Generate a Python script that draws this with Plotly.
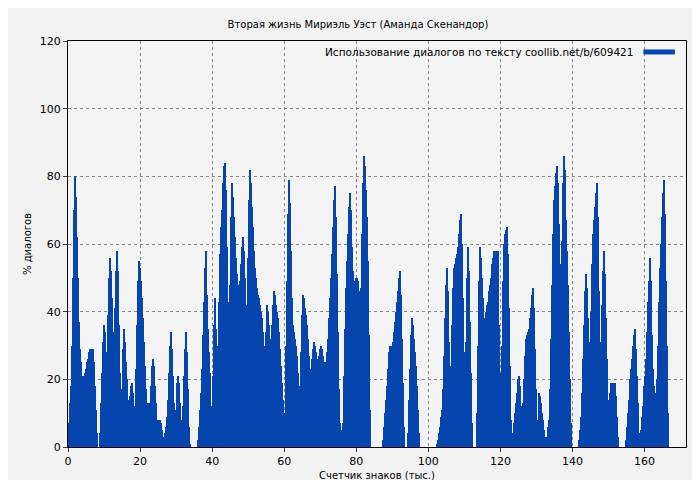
import plotly.graph_objects as go

seg1 = [7,13,18,30,50,70,80,74,62,50,37,29,25,21,20,21,22,23,25,26,28,29,29,29,29,25,18,11,4,0,0,4,13,22,31,36,34,28,28,39,50,56,52,44,34,30,41,52,58,52,36,22,7,17,29,35,31,25,20,14,14,15,18,19,16,12,10,23,36,49,55,53,49,44,38,31,24,17,13,13,12,13,18,24,26,24,18,13,8,7,8,8,7,5,3,1,4,6,9,14,22,30,34,29,21,13,4,11,19,21,19,13,8,4,12,21,29,34,28,17,6,1,0,0,0,0,0,0,0,2,6,11,16,23,33,43,53,58,45,35,28,22,12,7,21,36,44,35,30,29,43,57,65,70,78,83,84,76]
seg2 = [59,43,28,48,68,78,74,68,62,56,51,48,44,49,54,59,62,58,50,42,38,56,73,82,78,71,65,58,53,50,47,45,44,42,40,38,34,30,28,34,42,40,36,32,29,36,42,46,45,42,40,38,34,29,24,19,14,8,10,30,49,69,79,72,58,44,36,34,32,30,27,22,18,16,28,39,45,44,41,39,36,32,27,21,23,26,29,31,30,28,26,24,27,29,30,29,27,25,24,25,28,32,38,44,50,57,65,73,77,68,51,34,17,7,5,3,7,21,35,47,55,63,71,75,70,59,52,48,49,50,50,49,46,43,47,63,78,86,83,76,68,55,33,11]
seg3 = [0,0,0,0,0,0,0,0,0,0,0,0,2,6,10,14,18,23,28,30,30,30,31,34,37,40,43,46,50,52,45,32,19,6,0,0,0,4,14,23,33,38,36,32,28,24,18,11,4,0,0,0,0,0,0,0,0,0,0,0,0,0,0,0,0,0,1,2,4,6,9,11,17,27,38,48,53,46,31,16,24,36,47,53,54,56,57,59,63,67,69,60,44,28,13,31,50,59,52,37,22,7,0,0,0,0,10,30,49,59,56,50,44,38,38,40,42,43,46,48,50,54,56,58,58,58,58,58,36,22,10,30,49,60,63,64,65,57,41,24,8,4,4,7,10,13,16,20,21,18,12,6,13,20,27,32,33,34,35,38,41,45,47,41,29]
seg4 = [17,6,8,16,15,13,10,8,5,3,1,3,6,8,17,32,48,63,73,77,81,83,78,66,54,44,61,78,86,82,67,58,48,34,20,7,0,0,0,0,0,0,0,2,5,9,16,26,36,46,51,47,38,31,25,40,54,63,67,71,75,78,68,46,26,31,42,52,58,51,38,26,14,13,16,19,19,19,19,19,15,9,3,0,0,0,0,0,0,0,2,6,10,14,20,23,26,30,33,35,29,21,13,4,4,5,9,12,18,21,26,34,43,49,56,49,33,23,18,13,16,20,30,43,53,60,68,75,79,69,49,30,10]

values = seg1 + seg2 + seg3 + seg4
step = 1 / 3.6
xs = [(i + 0.5) * step for i in range(len(values))]
legend_text = "Использование диалогов по тексту coollib.net/b/609421"
blue = "#0645ad"

fig = go.Figure()
fig.add_trace(go.Bar(x=xs, y=values, width=step, marker=dict(color=blue, line=dict(width=0)),
                     name=legend_text, showlegend=False))
fig.add_annotation(xref="paper", yref="paper", x=0.918, y=0.973, xanchor="right", yanchor="middle",
                   text=legend_text, showarrow=False, font=dict(size=10.5))
fig.add_shape(type="line", xref="paper", yref="paper", x0=0.931, x1=0.982, y0=0.973, y1=0.973,
              line=dict(color=blue, width=5))
fig.update_layout(
    width=700, height=480, bargap=0,
    paper_bgcolor="#f2f2f2", plot_bgcolor="#f4f4f4",
    font=dict(family="DejaVu Sans", size=11, color="black"),
    margin=dict(l=60, r=22, t=33, b=41, autoexpand=False),
    title=dict(text="Вторая жизнь Мириэль Уэст (Аманда Скенандор)", x=0.5, xanchor="center", y=0.965, yanchor="middle", font=dict(size=10)),
    showlegend=False,
    xaxis=dict(title=dict(text="Счетчик знаков (тыс.)", standoff=4, font=dict(size=10)), range=[0, 171.5], dtick=20, showgrid=True,
               gridcolor="#888", griddash="dot", showline=True, linecolor="black", mirror=True, ticks="outside", ticklen=4, zeroline=False, automargin=False),
    yaxis=dict(title=dict(text="% диалогов", standoff=6, font=dict(size=10)), range=[0, 120], dtick=20, showgrid=True,
               gridcolor="#888", griddash="dot", showline=True, linecolor="black", mirror=True, ticks="outside", ticklen=4, zeroline=False, automargin=False),
)
fig.write_html("out.html")
